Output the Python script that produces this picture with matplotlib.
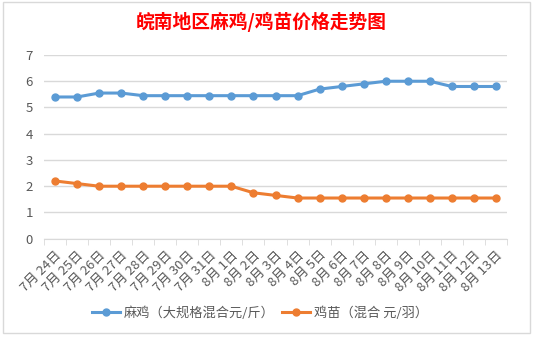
import numpy as np
import matplotlib.pyplot as plt
from matplotlib.patches import Rectangle

plt.rcParams['font.family'] = ['Noto Sans CJK SC', 'DejaVu Sans']

dates = ['7月 24日', '7月 25日', '7月 26日', '7月 27日', '7月 28日', '7月 29日', '7月 30日',
         '7月 31日', '8月 1日', '8月 2日', '8月 3日', '8月 4日', '8月 5日', '8月 6日',
         '8月 7日', '8月 8日', '8月 9日', '8月 10日', '8月 11日', '8月 12日', '8月 13日']
maji = [5.4, 5.4, 5.55, 5.55, 5.45, 5.45, 5.45, 5.45, 5.45, 5.45, 5.45,
        5.45, 5.7, 5.8, 5.9, 6.0, 6.0, 6.0, 5.8, 5.8, 5.8]
jimiao = [2.2, 2.1, 2.0, 2.0, 2.0, 2.0, 2.0, 2.0, 2.0, 1.75, 1.65,
          1.55, 1.55, 1.55, 1.55, 1.55, 1.55, 1.55, 1.55, 1.55, 1.55]

W, H = 533, 338
fig = plt.figure(figsize=(W / 100, H / 100), dpi=100)

# chart frame
fig.patches.append(Rectangle((3 / W, 5 / H), 527 / W, 331 / H, transform=fig.transFigure,
                             facecolor='white', edgecolor='#d9d9d9', lw=1, zorder=-5))

ax = fig.add_axes([44 / W, (H - 238.7) / H, 463 / W, (238.7 - 55) / H])
ax.set_facecolor('none')
x = np.arange(len(dates))
ax.plot(x, maji, color='#5b9bd5', lw=2.2, marker='o', ms=5, label='麻鸡（大规格混合元/斤）')
ax.plot(x, jimiao, color='#ed7d31', lw=2.2, marker='o', ms=5, label='鸡苗（混合 元/羽）')

ax.set_xlim(-0.5, len(dates) - 0.5)
ax.set_ylim(0, 7)
ax.set_yticks(range(0, 8))
ax.grid(axis='y', color='#d9d9d9', lw=1)
ax.set_axisbelow(True)
for s in ['top', 'right', 'left']:
    ax.spines[s].set_visible(False)
ax.spines['bottom'].set_color('#d9d9d9')
ax.tick_params(axis='y', length=0, labelsize=9.5, labelcolor='#595959', pad=8)
ax.set_xticks(x)
ax.set_xticklabels(dates, rotation=45, ha='right', va='top', rotation_mode='anchor',
                   fontsize=9.5, color='#595959')
ax.set_xticks(np.arange(-0.5, len(dates)), minor=True)
ax.tick_params(axis='x', which='major', length=0, pad=7)
ax.tick_params(axis='x', which='minor', length=4, color='#d9d9d9')

fig.text(261 / W, 1 - 22 / H, '皖南地区麻鸡/鸡苗价格走势图', color='red', fontsize=13.5,
         fontweight='bold', ha='center', va='center')

fig.legend(loc='center', bbox_to_anchor=(260 / W, 1 - 313 / H), ncol=2, frameon=False,
           fontsize=9.5, labelcolor='#595959', handlelength=2.1, columnspacing=0.6,
           handletextpad=0.3)

fig.savefig('out.png', dpi=100)
